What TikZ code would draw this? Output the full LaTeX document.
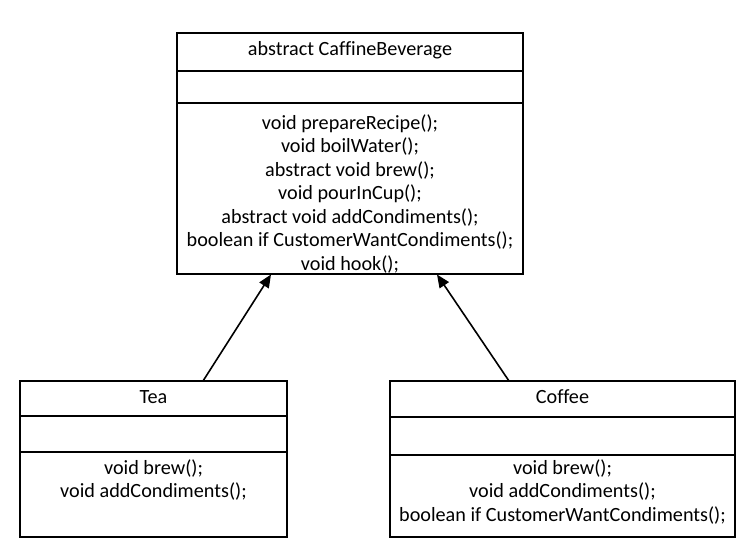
\documentclass[tikz,border=0pt]{standalone}
\usepackage{fontspec}
\setmainfont{Carlito}[Ligatures=CommonOff]
\usetikzlibrary{arrows.meta}
\begin{document}
\begin{tikzpicture}[x=1pt,y=-1pt,line width=1.3pt]
    \tikzstyle{every node}+=[inner sep=0pt, align=center, font=\fontsize{20.2}{23.5}\selectfont]
    \tikzstyle{classbox}=[draw=black, line width=1.3pt]
    \tikzstyle{inherit}=[black, line width=1.6pt, -{Triangle[length=13pt,width=11pt]}]
    \useasboundingbox (0,0) rectangle (747,555);
    \node [classbox, minimum width=346pt, minimum height=241pt] (beverage) at (350,153.5) {};
    \draw [black] (177,71) -- (523,71);
    \draw [black] (177,103) -- (523,103);
    \node (beveragename) at (350,50) {abstract CaffineBeverage};
    \node (beveragemethods) at (350,194) {void prepareRecipe();\\void boilWater();\\abstract void brew();\\void pourInCup();\\abstract void addCondiments();\\boolean if CustomerWantCondiments();\\void hook();};
    \node [classbox, minimum width=267pt, minimum height=156pt] (tea) at (153.5,459) {};
    \draw [black] (20,416) -- (287,416);
    \draw [black] (20,452) -- (287,452);
    \node (teaname) at (153.5,397) {Tea};
    \node (teamethods) at (153.5,480) {void brew();\\void addCondiments();};
    \node [classbox, minimum width=345pt, minimum height=156pt] (coffee) at (562.5,459) {};
    \draw [black] (390,417) -- (735,417);
    \draw [black] (390,455) -- (735,455);
    \node (coffeename) at (562.5,397) {Coffee};
    \node (coffeemethods) at (562.5,492) {void brew();\\void addCondiments();\\boolean if CustomerWantCondiments();};
    \coordinate (teaout) at (203,381);
    \coordinate (teain) at (271,274.5);
    \coordinate (coffeeout) at (509,381);
    \coordinate (coffeein) at (437,274.5);
    \draw [inherit] (teaout) -- (teain);
    \draw [inherit] (coffeeout) -- (coffeein);
\end{tikzpicture}
\end{document}
